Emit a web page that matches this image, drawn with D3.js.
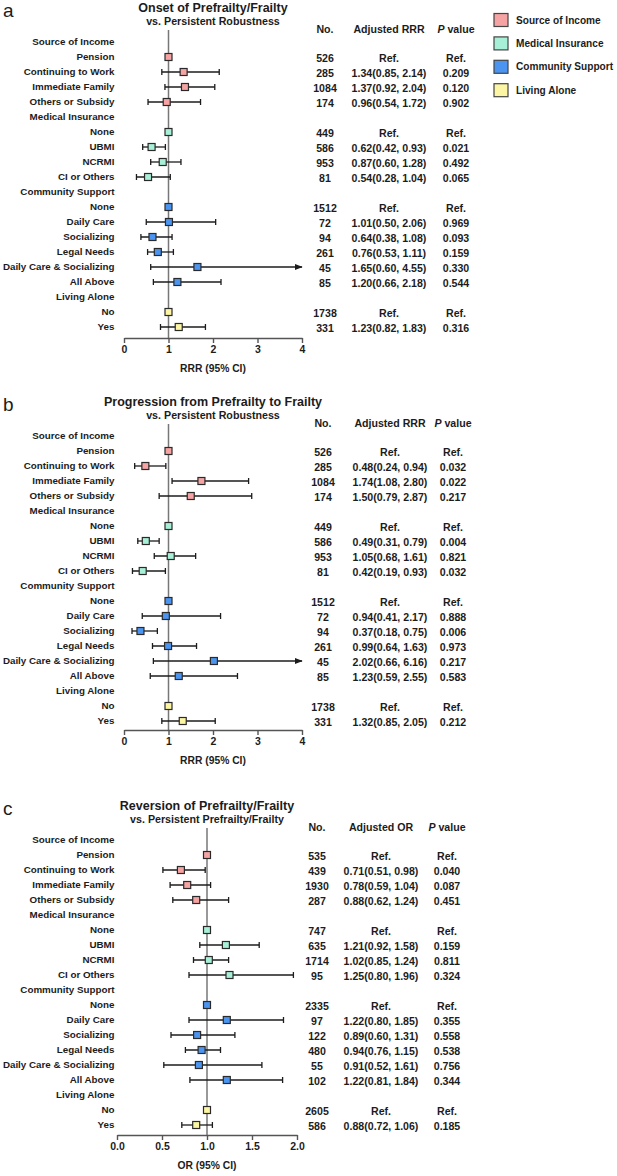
<!DOCTYPE html>
<html><head><meta charset="utf-8">
<script src="https://cdn.jsdelivr.net/npm/d3@7"></script>
<style>body{margin:0;background:#fff}svg{display:block;font-family:"Liberation Sans",Arial,sans-serif}</style>
</head><body><svg id="chart" width="617" height="1176"></svg>
<script>
// ---------- data ----------
const groupNames = ["Source of Income", "Medical Insurance", "Community Support", "Living Alone"];
const groupItems = [
  ["Pension", "Continuing to Work", "Immediate Family", "Others or Subsidy"],
  ["None", "UBMI", "NCRMI", "CI or Others"],
  ["None", "Daily Care", "Socializing", "Legal Needs", "Daily Care & Socializing", "All Above"],
  ["No", "Yes"]
];
const groupColors = ["#f5a3a3", "#a8efd7", "#4b95f1", "#fbf5a4"];

// Panel a: Onset of Prefrailty/Frailty
const aN   = [526, 285, 1084, 174, 449, 586, 953, 81, 1512, 72, 94, 261, 45, 85, 1738, 331];
const aEst = [1, 1.34, 1.37, 0.96, 1, 0.62, 0.87, 0.54, 1, 1.01, 0.64, 0.76, 1.65, 1.20, 1, 1.23];
const aLo  = [null, 0.85, 0.92, 0.54, null, 0.42, 0.60, 0.28, null, 0.50, 0.38, 0.53, 0.60, 0.66, null, 0.82];
const aHi  = [null, 2.14, 2.04, 1.72, null, 0.93, 1.28, 1.04, null, 2.06, 1.08, 1.11, 4.55, 2.18, null, 1.83];
const aP   = ["Ref.", "0.209", "0.120", "0.902", "Ref.", "0.021", "0.492", "0.065", "Ref.", "0.969", "0.093", "0.159", "0.330", "0.544", "Ref.", "0.316"];

// Panel b: Progression from Prefrailty to Frailty
const bN   = [526, 285, 1084, 174, 449, 586, 953, 81, 1512, 72, 94, 261, 45, 85, 1738, 331];
const bEst = [1, 0.48, 1.74, 1.50, 1, 0.49, 1.05, 0.42, 1, 0.94, 0.37, 0.99, 2.02, 1.23, 1, 1.32];
const bLo  = [null, 0.24, 1.08, 0.79, null, 0.31, 0.68, 0.19, null, 0.41, 0.18, 0.64, 0.66, 0.59, null, 0.85];
const bHi  = [null, 0.94, 2.80, 2.87, null, 0.79, 1.61, 0.93, null, 2.17, 0.75, 1.63, 6.16, 2.55, null, 2.05];
const bP   = ["Ref.", "0.032", "0.022", "0.217", "Ref.", "0.004", "0.821", "0.032", "Ref.", "0.888", "0.006", "0.973", "0.217", "0.583", "Ref.", "0.212"];

// Panel c: Reversion of Prefrailty/Frailty
const cN   = [535, 439, 1930, 287, 747, 635, 1714, 95, 2335, 97, 122, 480, 55, 102, 2605, 586];
const cEst = [1, 0.71, 0.78, 0.88, 1, 1.21, 1.02, 1.25, 1, 1.22, 0.89, 0.94, 0.91, 1.22, 1, 0.88];
const cLo  = [null, 0.51, 0.59, 0.62, null, 0.92, 0.85, 0.80, null, 0.80, 0.60, 0.76, 0.52, 0.81, null, 0.72];
const cHi  = [null, 0.98, 1.04, 1.24, null, 1.58, 1.24, 1.96, null, 1.85, 1.31, 1.15, 1.61, 1.84, null, 1.06];
const cP   = ["Ref.", "0.040", "0.087", "0.451", "Ref.", "0.159", "0.811", "0.324", "Ref.", "0.355", "0.558", "0.538", "0.756", "0.344", "Ref.", "0.185"];

const ticksRRR = [0, 1, 2, 3, 4];
const ticksOR  = [0, 0.5, 1.0, 1.5, 2.0];

// ---------- drawing ----------
const svg = d3.select("#chart");
const ink = "#1c1c1c";

svg.append("defs").append("marker")
  .attr("id", "arrow").attr("viewBox", "0 0 10 10").attr("refX", 9).attr("refY", 5)
  .attr("markerWidth", 6).attr("markerHeight", 6).attr("orient", "auto")
  .append("path").attr("d", "M0,1 L10,5 L0,9 Z").attr("fill", ink);

function fmt2(v) { return d3.format(".2f")(v); }

function drawPanel(cfg) {
  const g = svg.append("g");
  // build rows
  const rows = [];
  let k = 0;
  groupNames.forEach((gn, gi) => {
    rows.push({ label: gn, header: true });
    groupItems[gi].forEach(it => {
      rows.push({ label: it, header: false, gi, k });
      k++;
    });
  });
  const y = d3.scaleLinear().domain([0, rows.length - 1]).range([cfg.rowTop, cfg.rowTop + 15 * (rows.length - 1)]);
  const x = d3.scaleLinear().domain(cfg.domain).range(cfg.xRange);

  // panel letter
  g.append("text").attr("x", 3).attr("y", cfg.rowTop - 25).attr("font-size", 19).attr("fill", ink).text(cfg.letter);
  // titles
  const cx = (cfg.xRange[0] + cfg.xRange[1]) / 2;
  g.append("text").attr("x", cx).attr("y", cfg.rowTop - 30).attr("text-anchor", "middle")
    .attr("font-size", 12.5).attr("font-weight", "bold").attr("fill", ink).text(cfg.title);
  g.append("text").attr("x", cx).attr("y", cfg.rowTop - 17).attr("text-anchor", "middle")
    .attr("font-size", 10.7).attr("font-weight", "bold").attr("fill", ink).text(cfg.subtitle);

  // column headers
  const hy = cfg.rowTop - 13;
  const hdr = g.append("g").attr("font-size", 10.6).attr("font-weight", "bold").attr("fill", ink).attr("text-anchor", "middle");
  hdr.append("text").attr("x", cfg.cols[0]).attr("y", hy).attr("dy", "0.35em").text("No.");
  hdr.append("text").attr("x", cfg.cols[1]).attr("y", hy).attr("dy", "0.35em").text(cfg.estHeader);
  const pt = hdr.append("text").attr("x", cfg.cols[2]).attr("y", hy).attr("dy", "0.35em");
  pt.append("tspan").attr("font-style", "italic").text("P");
  pt.append("tspan").text(" value");

  // reference line
  g.append("line").attr("x1", x(1)).attr("x2", x(1)).attr("y1", cfg.rowTop - 12).attr("y2", cfg.axisY)
    .attr("stroke", "#777").attr("stroke-width", 1.5);

  // axis
  const axis = g.append("g").attr("transform", `translate(0,${cfg.axisY})`)
    .call(d3.axisBottom(x).tickValues(cfg.ticks).tickFormat(cfg.tickFmt).tickSize(5).tickSizeOuter(0));
  axis.select(".domain").attr("stroke", "#555").attr("stroke-width", 1.4);
  axis.selectAll(".tick line").attr("stroke", "#555").attr("stroke-width", 1.4);
  axis.selectAll(".tick text").attr("font-size", 10.5).attr("font-weight", "bold").attr("fill", ink)
    .attr("font-family", '"Liberation Sans",Arial,sans-serif').attr("y", 8);
  g.append("text").attr("x", cx).attr("y", cfg.axisY + 30).attr("dy", "0.35em").attr("text-anchor", "middle")
    .attr("font-size", 10.3).attr("font-weight", "bold").attr("fill", ink).text(cfg.axisTitle);

  rows.forEach((r, i) => {
    const yy = y(i);
    g.append("text").attr("x", 114.5).attr("y", yy).attr("dy", "0.35em").attr("text-anchor", "end")
      .attr("font-size", 9.8).attr("font-weight", "bold").attr("fill", ink).text(r.label);
    if (r.header) return;
    const j = r.k;
    const est = cfg.est[j], lo = cfg.lo[j], hi = cfg.hi[j];
    if (lo !== null) {
      const maxV = cfg.domain[1];
      const over = hi > maxV;
      g.append("line").attr("x1", x(lo)).attr("x2", x(over ? maxV : hi)).attr("y1", yy).attr("y2", yy)
        .attr("stroke", ink).attr("stroke-width", 1.3)
        .attr("marker-end", over ? "url(#arrow)" : null);
      g.append("line").attr("x1", x(lo)).attr("x2", x(lo)).attr("y1", yy - 3).attr("y2", yy + 3)
        .attr("stroke", ink).attr("stroke-width", 1.3);
      if (!over) g.append("line").attr("x1", x(hi)).attr("x2", x(hi)).attr("y1", yy - 3).attr("y2", yy + 3)
        .attr("stroke", ink).attr("stroke-width", 1.3);
    }
    g.append("rect").attr("x", x(est) - 3.5).attr("y", yy - 3.5).attr("width", 7).attr("height", 7)
      .attr("fill", groupColors[r.gi]).attr("stroke", "#2a2a2a").attr("stroke-width", 1.2);

    const tg = g.append("g").attr("font-size", 10.6).attr("font-weight", "bold").attr("fill", ink).attr("text-anchor", "middle");
    tg.append("text").attr("x", cfg.cols[0]).attr("y", yy + 1.5).attr("dy", "0.35em").text(cfg.n[j]);
    tg.append("text").attr("x", cfg.cols[1]).attr("y", yy + 1.5).attr("dy", "0.35em")
      .text(lo === null ? "Ref." : `${fmt2(est)}(${fmt2(lo)}, ${fmt2(hi)})`);
    tg.append("text").attr("x", cfg.cols[2]).attr("y", yy + 1.5).attr("dy", "0.35em").text(cfg.p[j]);
  });
}

drawPanel({ letter: "a", title: "Onset of Prefrailty/Frailty", subtitle: "vs. Persistent Robustness",
  rowTop: 42, axisY: 338, xRange: [124, 302], domain: [0, 4], ticks: ticksRRR, tickFmt: d3.format("d"),
  cols: [325, 389, 456], estHeader: "Adjusted RRR", axisTitle: "RRR (95% CI)",
  n: aN, est: aEst, lo: aLo, hi: aHi, p: aP });
drawPanel({ letter: "b", title: "Progression from Prefrailty to Frailty", subtitle: "vs. Persistent Robustness",
  rowTop: 436, axisY: 730, xRange: [124, 302], domain: [0, 4], ticks: ticksRRR, tickFmt: d3.format("d"),
  cols: [323, 390, 453], estHeader: "Adjusted RRR", axisTitle: "RRR (95% CI)",
  n: bN, est: bEst, lo: bLo, hi: bHi, p: bP });
drawPanel({ letter: "c", title: "Reversion of Prefrailty/Frailty", subtitle: "vs. Persistent Prefrailty/Frailty",
  rowTop: 840, axisY: 1135, xRange: [117, 297], domain: [0, 2], ticks: ticksOR, tickFmt: d3.format(".1f"),
  cols: [317, 381, 447], estHeader: "Adjusted OR", axisTitle: "OR (95% CI)",
  n: cN, est: cEst, lo: cLo, hi: cHi, p: cP });

// legend
const leg = svg.append("g");
groupNames.forEach((gn, i) => {
  const ly = 20 + i * 23.4;
  leg.append("rect").attr("x", 494).attr("y", ly - 6.5).attr("width", 14).attr("height", 13)
    .attr("fill", groupColors[i]).attr("stroke", "#444").attr("stroke-width", 1.2);
  leg.append("text").attr("x", 516).attr("y", ly).attr("dy", "0.35em").attr("font-size", 10.1)
    .attr("font-weight", "bold").attr("fill", ink).text(gn);
});
</script></body></html>
